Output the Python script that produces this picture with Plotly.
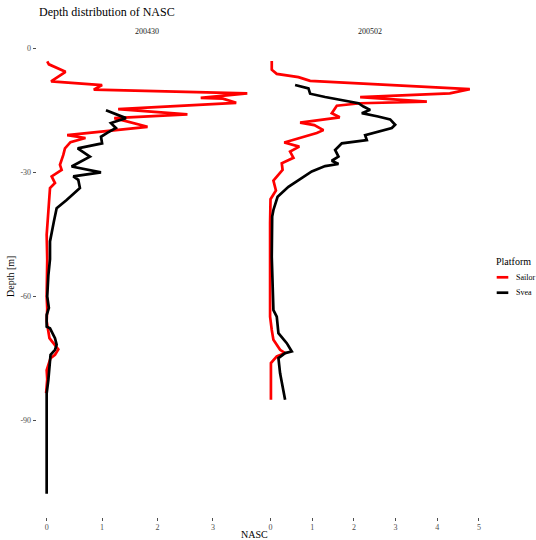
import plotly.graph_objects as go

# ---------------- data ----------------
facets = ["200430", "200502"]
platforms = ["Sailor", "Svea"]
platform_colors = ["#FF0000", "#000000"]

depth_200430_sailor = [-3.2, -3.9, -5.7, -8.0, -8.9, -10.0, -10.9, -12.0, -12.2, -13.2, -14.7, -16.0,
                       -16.9, -19.0, -21.0, -21.7, -22.7, -24.2, -25.8, -28.2, -29.4, -31.0, -32.6,
                       -33.8, -39.5, -45.1, -51.0, -55.0, -60.0, -63.0, -66.0, -70.1, -71.3, -72.8,
                       -74.1, -74.9, -77.8, -80.0, -83.4]
nasc_200430_sailor = [0.01, 0.04, 0.34, 0.08, 1.00, 0.85, 3.62, 2.78, 3.18, 3.42, 1.29, 2.54,
                      1.22, 1.82, 0.37, 0.70, 0.43, 0.33, 0.30, 0.24, 0.27, 0.09, 0.15,
                      0.06, 0.03, 0.00, 0.01, 0.00, 0.00, 0.01, 0.00, 0.05, 0.12, 0.21,
                      0.15, 0.07, 0.00, 0.01, -0.01]

depth_200430_svea = [-15.0, -16.9, -18.1, -19.3, -20.4, -21.4, -23.0, -24.2, -26.2, -28.6, -30.0,
                     -31.0, -31.8, -33.8, -36.7, -38.7, -41.9, -46.7, -51.0, -55.0, -60.0, -62.8,
                     -64.5, -67.3, -67.7, -70.1, -71.7, -72.9, -74.1, -77.8, -80.2, -83.4, -90.0,
                     -100.0, -107.7]
nasc_200430_svea = [1.07, 1.43, 1.16, 1.25, 1.10, 0.98, 1.00, 0.56, 0.78, 0.45, 0.98,
                    0.48, 0.57, 0.60, 0.36, 0.18, 0.13, 0.06, 0.06, 0.03, 0.01, 0.04,
                    0.00, 0.00, 0.06, 0.15, 0.18, 0.15, 0.07, 0.05, 0.03, 0.00, 0.00,
                    0.01, 0.00]

depth_200502_sailor = [-3.1, -5.2, -6.2, -7.0, -7.9, -9.9, -10.9, -11.8, -12.9, -13.3, -13.9, -15.7,
                       -16.7, -18.0, -18.6, -19.8, -20.5, -22.8, -23.8, -25.0, -26.5, -27.8, -29.4,
                       -30.6, -32.0, -34.4, -36.5, -42.3, -50.0, -58.0, -64.9, -68.1, -70.5, -72.9,
                       -73.7, -74.5, -76.1, -85.0]
nasc_200502_sailor = [0.03, 0.03, 0.15, 0.67, 0.95, 4.78, 4.30, 2.15, 3.75, 2.15, 1.59, 1.47,
                      1.66, 0.71, 1.05, 1.27, 1.11, 0.33, 0.69, 0.47, 0.55, 0.27, 0.29,
                      0.19, 0.07, 0.13, 0.00, -0.01, -0.01, -0.01, -0.01, 0.03, 0.07, 0.23,
                      0.35, 0.15, 0.01, 0.01]

depth_200502_svea = [-8.9, -9.7, -11.0, -11.8, -13.3, -14.1, -14.9, -15.7, -16.5, -17.2, -18.5, -19.3,
                     -21.0, -22.2, -23.0, -24.6, -26.2, -27.2, -28.0, -28.5, -29.8, -31.8, -33.5,
                     -35.9, -39.1, -40.7, -50.4, -63.3, -64.9, -68.9, -71.3, -73.3, -73.7, -74.9,
                     -78.6, -85.0]
nasc_200502_svea = [0.59, 0.91, 0.95, 1.31, 2.11, 2.23, 2.39, 2.19, 2.58, 2.87, 2.99, 2.91,
                    2.27, 2.31, 1.71, 1.55, 1.63, 1.47, 1.63, 1.31, 0.99, 0.67, 0.43,
                    0.17, 0.07, 0.04, 0.03, 0.07, 0.15, 0.19, 0.39, 0.51, 0.35, 0.19,
                    0.23, 0.35]

y_tick_vals = [0, -30, -60, -90]
y_tick_text = ["0", "-30", "-60", "-90"]
x_ticks_200430 = [0, 1, 2, 3]
x_ticks_200502 = [0, 1, 2, 3, 4, 5]

series = {
    ("200430", "Sailor"): (nasc_200430_sailor, depth_200430_sailor),
    ("200430", "Svea"): (nasc_200430_svea, depth_200430_svea),
    ("200502", "Sailor"): (nasc_200502_sailor, depth_200502_sailor),
    ("200502", "Svea"): (nasc_200502_svea, depth_200502_svea),
}

# ---------------- figure ----------------
W, H = 536, 540
FONT = "Liberation Serif, Times New Roman, serif"


def fx(p):
    return p / W


def fy(p):
    return 1 - p / H


fig = go.Figure()
axis_ids = {"200430": ("x", "y"), "200502": ("x2", "y2")}
for f in facets:
    xa, ya = axis_ids[f]
    for p, c in zip(platforms, platform_colors):
        xs, ys = series[(f, p)]
        fig.add_trace(go.Scatter(x=xs, y=ys, mode="lines", name=p,
                                 line=dict(color=c, width=2.7),
                                 xaxis=xa, yaxis=ya, showlegend=False))

tickfont = dict(family=FONT, size=8, color="#4D4D4D")
common_x = dict(showgrid=False, zeroline=False, showline=False, ticks="outside",
                ticklen=3, tickwidth=1, tickcolor="#4D4D4D", tickfont=tickfont,
                automargin=False)
common_y = dict(showgrid=False, zeroline=False, showline=False, ticks="outside",
                ticklen=3, tickwidth=1, tickcolor="#4D4D4D", tickfont=tickfont,
                range=[-113.2, 2.3], automargin=False)

ydom = [fy(516.5), fy(38.7)]
fig.update_layout(
    width=W, height=H,
    margin=dict(l=0, r=0, t=0, b=0),
    paper_bgcolor="white", plot_bgcolor="white",
    font=dict(family=FONT, color="#000000"),
    showlegend=False,
    xaxis=dict(domain=[fx(36.7), fx(256.7)], range=[-0.18, 3.79], anchor="y",
               tickvals=x_ticks_200430, **common_x),
    xaxis2=dict(domain=[fx(260.5), fx(479.8)], range=[-0.24, 5.02], anchor="y2",
                tickvals=x_ticks_200502, **common_x),
    yaxis=dict(domain=ydom, anchor="x", tickvals=y_tick_vals, ticktext=y_tick_text, **common_y),
    yaxis2=dict(domain=ydom, anchor="x2", matches="y", showticklabels=False,
                **{k: v for k, v in common_y.items() if k not in ("ticks", "range")}, ticks=""),
)

annotations = [
    dict(text="Depth distribution of NASC", x=fx(37), y=fy(12), xanchor="left", yanchor="middle",
         font=dict(family=FONT, size=12, color="#000000")),
    dict(text=facets[0], x=fx((36.7 + 256.7) / 2), y=fy(32), xanchor="center", yanchor="middle",
         font=dict(family=FONT, size=8, color="#1A1A1A")),
    dict(text=facets[1], x=fx((260.5 + 479.8) / 2), y=fy(32), xanchor="center", yanchor="middle",
         font=dict(family=FONT, size=8, color="#1A1A1A")),
    dict(text="NASC", x=fx(254), y=fy(534), xanchor="center", yanchor="middle",
         font=dict(family=FONT, size=10, color="#000000")),
    dict(text="Depth [m]", x=fx(10), y=fy(277), xanchor="center", yanchor="middle", textangle=-90,
         font=dict(family=FONT, size=10, color="#000000")),
    dict(text="Platform", x=fx(494), y=fy(261), xanchor="left", yanchor="middle",
         font=dict(family=FONT, size=10, color="#000000")),
]
shapes = []
for i, (p, c) in enumerate(zip(platforms, platform_colors)):
    yy = 277.3 + i * 15.4
    shapes.append(dict(type="line", xref="paper", yref="paper", x0=fx(496.7), x1=fx(508.3),
                       y0=fy(yy), y1=fy(yy), line=dict(color=c, width=2.7)))
    annotations.append(dict(text=p, x=fx(513.5), y=fy(yy), xanchor="left", yanchor="middle",
                            font=dict(family=FONT, size=8, color="#000000")))
for a in annotations:
    a.update(xref="paper", yref="paper", showarrow=False)
fig.update_layout(annotations=annotations, shapes=shapes)

fig.write_html("out.html", config={"displayModeBar": False},
               post_script="document.body.style.margin='0';document.body.style.overflow='hidden';")
